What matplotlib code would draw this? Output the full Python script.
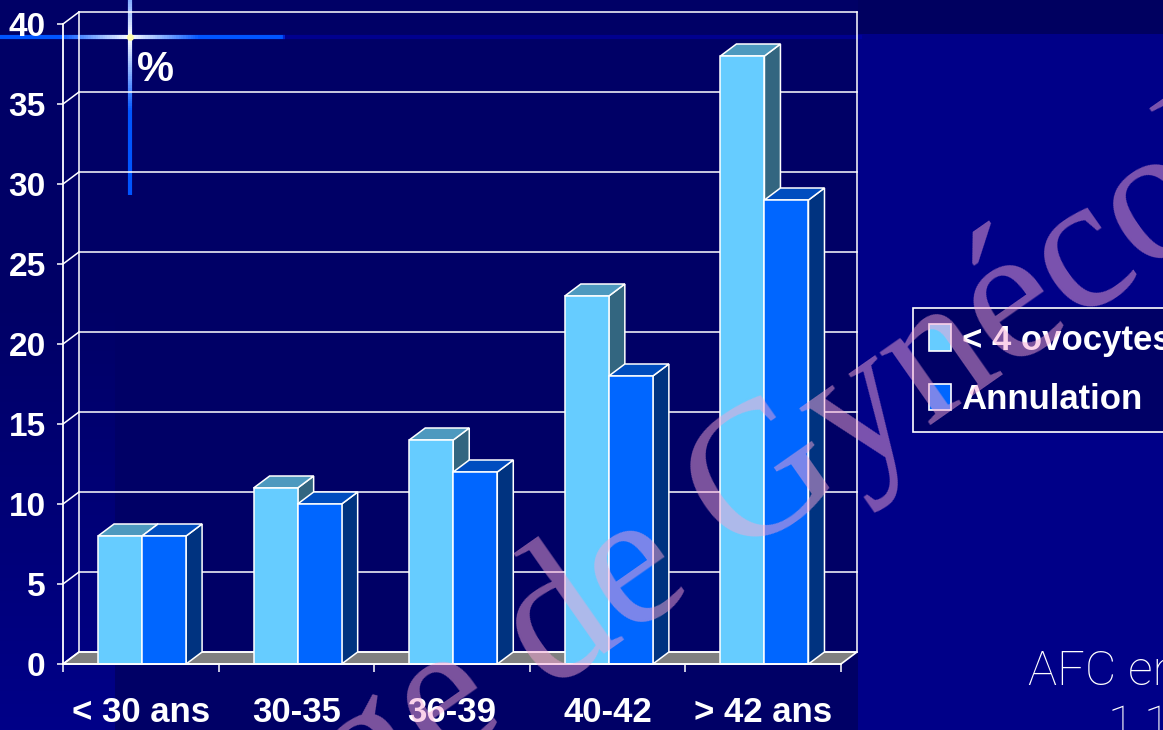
import matplotlib
matplotlib.use('Agg')

import numpy as np
import matplotlib.pyplot as plt
from matplotlib.patches import Polygon, Rectangle, Patch
from matplotlib.colors import LinearSegmentedColormap

plt.rcParams['font.family'] = ['Liberation Sans', 'DejaVu Sans']

categories = ['< 30 ans', '30-35', '36-39', '40-42', '> 42 ans']
series_names = ['< 4 ovocytes', 'Annulation']
ovocytes = [8, 11, 14, 23, 38]
annulation = [8, 10, 12, 18, 29]
yticks = [0, 5, 10, 15, 20, 25, 30, 35, 40]

W, H = 1163, 730
NAVY = '#000066'
FRONT = ['#66CCFF', '#0066FF']
TOP = ['#4D99BF', '#004DBF']
SIDE = ['#336680', '#003380']


def run():
    fig = plt.figure(figsize=(W / 100, H / 100), dpi=100)
    fig.patch.set_facecolor('#000088')

    # slide background, in pixel units
    bg = fig.add_axes([0, 0, 1, 1], zorder=-10)
    bg.add_patch(Rectangle((0, 0), 858, H, color=NAVY, lw=0))
    bg.add_patch(Rectangle((858, 0), W - 858, 34, color='#000060', lw=0))
    grad = np.linspace(0, 1, 256)[:, None]
    bg.imshow(grad, extent=(0, 115, H, 300), aspect='auto', zorder=1,
              cmap=LinearSegmentedColormap.from_list('strip', [NAVY, '#000088']))
    bg.set_xlim(0, W)
    bg.set_ylim(H, 0)
    bg.axis('off')

    # glowing cross
    bg.plot([0, 285], [37, 37], color='#0055FF', lw=3, solid_capstyle='butt', zorder=2)
    bg.plot([285, 860], [37, 37], color='#0000AA', lw=3, alpha=0.6, zorder=2)
    xs = np.linspace(60, 200, 60)
    for x0, x1 in zip(xs[:-1], xs[1:]):
        a = max(0, 1 - abs((x0 + x1) / 2 - 130) / 70)
        bg.plot([x0, x1], [37, 37], color='white', lw=3, alpha=a, solid_capstyle='butt', zorder=3)
    bg.plot([130, 130], [0, 195], color='#0055FF', lw=3, solid_capstyle='butt', zorder=2)
    ys = np.linspace(0, 110, 50)
    for y0, y1 in zip(ys[:-1], ys[1:]):
        a = max(0, 1 - abs((y0 + y1) / 2 - 37) / 75)
        bg.plot([130, 130], [y0, y1], color='white', lw=3, alpha=a, solid_capstyle='butt', zorder=3)
    bg.plot([130], [37], marker='o', ms=5, color='#FFFFAA', mec='none', zorder=4)

    # chart: front plane 63..841 px, value 0..40 at 664..24 px
    ax = fig.add_axes([63 / W, (H - 664) / H, 778 / W, 640 / H])
    ax.set_xlim(0, 5)
    ax.set_ylim(0, 40)
    ax.patch.set_alpha(0)
    dx = 16 / 778 * 5
    dy = 12 / 640 * 40
    lc = 'white'

    # floor
    ax.add_patch(Polygon([(0, 0), (5, 0), (5 + dx, dy), (dx, dy)], closed=True,
                         facecolor='#808080', edgecolor=lc, lw=1.2, clip_on=False, zorder=1))
    # back wall and grid
    for v in yticks:
        ax.plot([dx, 5 + dx], [v + dy, v + dy], color=lc, lw=1.1, clip_on=False, zorder=1)
        ax.plot([0, dx], [v, v + dy], color=lc, lw=1.1, clip_on=False, zorder=1)
    ax.plot([dx, dx], [dy, 40 + dy], color=lc, lw=1.1, clip_on=False, zorder=1)
    ax.plot([5 + dx, 5 + dx], [dy, 40 + dy], color=lc, lw=1.1, clip_on=False, zorder=1)

    # 3D bars
    w = 0.283
    for i in range(len(categories)):
        for j, vals in enumerate([ovocytes, annulation]):
            v = vals[i]
            x0 = i + 0.508 - w + j * w
            kw = dict(edgecolor=lc, lw=1.1, clip_on=False, zorder=3 + i * 2 + j, joinstyle='miter')
            ax.add_patch(Polygon([(x0 + w, 0), (x0 + w + dx, dy), (x0 + w + dx, v + dy), (x0 + w, v)],
                                 facecolor=SIDE[j], **kw))
            ax.add_patch(Polygon([(x0, v), (x0 + w, v), (x0 + w + dx, v + dy), (x0 + dx, v + dy)],
                                 facecolor=TOP[j], **kw))
            ax.add_patch(Rectangle((x0, 0), w, v, facecolor=FRONT[j], **kw))

    for s in ['top', 'right']:
        ax.spines[s].set_visible(False)
    for s in ['left', 'bottom']:
        ax.spines[s].set_color(lc)
        ax.spines[s].set_linewidth(1.3)
        ax.spines[s].set_zorder(20)
    ax.set_yticks(yticks)
    ax.set_yticklabels([str(t) for t in yticks])
    ax.tick_params(axis='y', colors='white', length=4.5, width=1.1, pad=8,
                   labelsize=24)
    ax.set_xticks(np.arange(len(categories)) + 0.5)
    ax.set_xticklabels(categories)
    ax.set_xticks(np.arange(len(categories) + 1), minor=True)
    ax.tick_params(axis='x', which='major', length=0, pad=23, colors='white', labelsize=25)
    ax.tick_params(axis='x', which='minor', length=6, width=1.1, color='white')
    for lab in ax.get_xticklabels() + ax.get_yticklabels():
        lab.set_fontweight('bold')

    fig.text(137 / W, 1 - 81 / H, '%', color='white', fontsize=30, fontweight='bold')

    handles = [Patch(facecolor=FRONT[k], edgecolor='white', lw=1.2) for k in range(2)]
    leg = fig.legend(handles, series_names, loc='upper left',
                     bbox_to_anchor=(913 / W, 1 - 308 / H), borderaxespad=0,
                     prop=dict(weight='bold', size=25), frameon=True, fancybox=False,
                     facecolor=NAVY, edgecolor='white', framealpha=1,
                     handlelength=0.65, handleheight=0.78, handletextpad=0.3,
                     borderpad=0.45, labelspacing=0.76)
    leg.get_frame().set_linewidth(1.2)
    for t in leg.get_texts():
        t.set_color('white')

    fig.text(1028 / W, 1 - 685 / H, 'AFC en', color='white', fontsize=35,
             family=['Roboto', 'DejaVu Sans'], fontweight='light')
    fig.text(1108 / W, 1 - 740 / H, '1.1', color='white', fontsize=35,
             family=['Roboto', 'DejaVu Sans'], fontweight='light')

    # watermark
    fig.text(20 / W, 1 - 1062 / H, 'Collège de Gynécologie', color='#F6A6D6', alpha=0.5,
             fontsize=138, family=['Liberation Serif', 'DejaVu Serif'], rotation=35,
             rotation_mode='anchor', ha='left', va='baseline', zorder=30)

    return fig


def main():
    fig = run()
    fig.savefig('out.png', dpi=100, facecolor=fig.get_facecolor())


if __name__ == '__main__':
    main()
